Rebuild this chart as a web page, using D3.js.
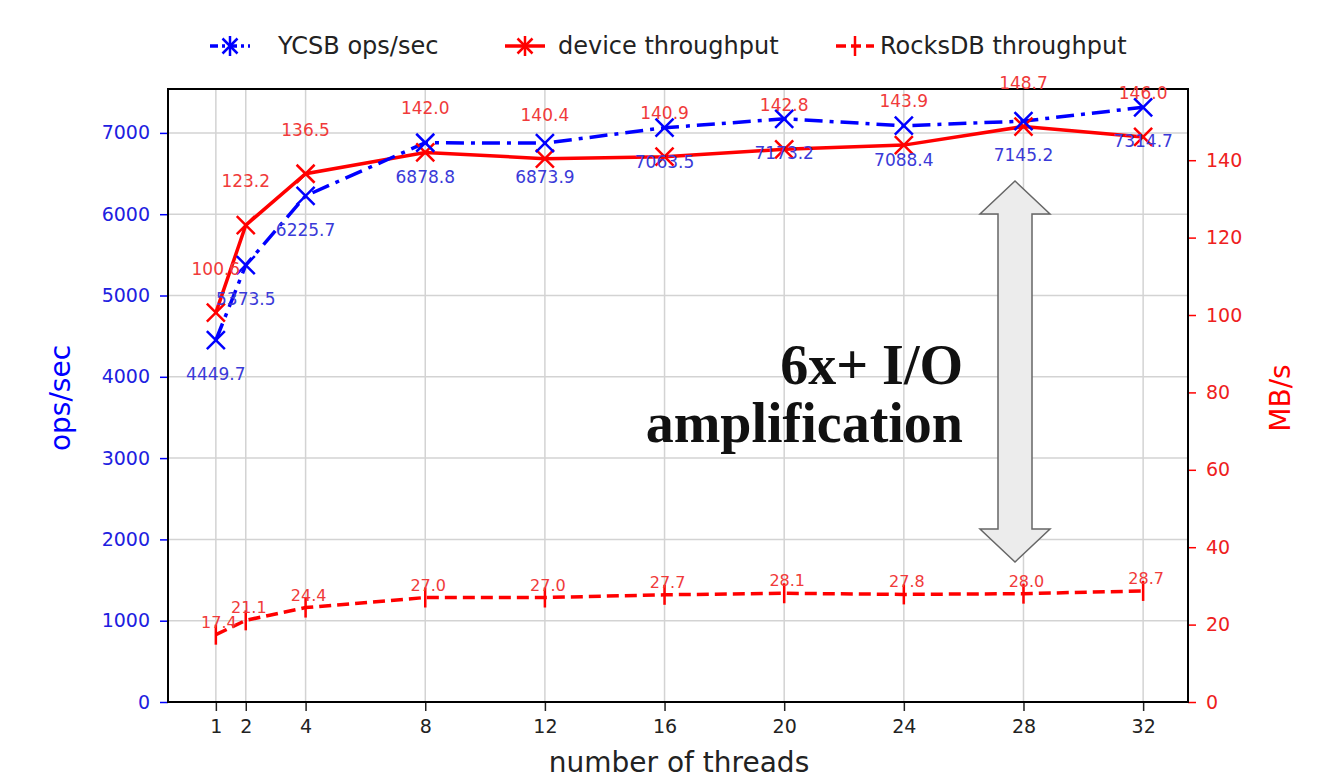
<!DOCTYPE html>
<html><head><meta charset="utf-8">
<script src="https://cdn.jsdelivr.net/npm/d3@7"></script>
<style>body{margin:0;background:#fff}svg{display:block}text{font-family:"DejaVu Sans",sans-serif}</style>
</head><body><svg id="c" width="1329" height="781"></svg>
<script>
const threads = [1, 2, 4, 8, 12, 16, 20, 24, 28, 32];
const xTicks = [1, 2, 4, 8, 12, 16, 20, 24, 28, 32];
const ycsbOps = [4449.7, 5373.5, 6225.7, 6878.8, 6873.9, 7063.5, 7173.2, 7088.4, 7145.2, 7314.7];
const deviceMBs = [100.6, 123.2, 136.5, 142.0, 140.4, 140.9, 142.8, 143.9, 148.7, 146.0];
const rocksMBs = [17.4, 21.1, 24.4, 27.0, 27.0, 27.7, 28.1, 27.8, 28.0, 28.7];
const leftTicks = [0, 1000, 2000, 3000, 4000, 5000, 6000, 7000];
const rightTicks = [0, 20, 40, 60, 80, 100, 120, 140];
const legendLabels = ["YCSB ops/sec", "device throughput", "RocksDB throughput"];
const annotationLines = ["6x+ I/O", "amplification"];

const svg = d3.select("#c");
const L = 168, R = 1188, T = 89, B = 702;
const x = d3.scaleLinear().domain([-0.6, 33.5]).range([L, R]);
const yL = d3.scaleLinear().domain([0, 7540]).range([B, T]);
const yR = d3.scaleLinear().domain([0, 158.4]).range([B, T]);
const BLUE = "#0000ff", RED = "#ff0000";

// grid
const g = svg.append("g");
g.selectAll(".vg").data(xTicks).join("line")
  .attr("x1", d => x(d)).attr("x2", d => x(d)).attr("y1", T).attr("y2", B)
  .attr("stroke", "#d3d3d3").attr("stroke-width", 1.5);
g.selectAll(".hg").data(leftTicks.slice(1)).join("line")
  .attr("x1", L).attr("x2", R).attr("y1", d => yL(d)).attr("y2", d => yL(d))
  .attr("stroke", "#d3d3d3").attr("stroke-width", 1.5);

// axes
const xAx = svg.append("g").attr("transform", `translate(0,${B})`)
  .call(d3.axisBottom(x).tickValues(xTicks).tickSize(9).tickPadding(9));
xAx.select(".domain").remove();
xAx.selectAll("text").attr("font-size", 19).attr("fill", "#222");
xAx.selectAll("line").attr("stroke", "#222").attr("stroke-width", 1.5);

const lAx = svg.append("g").attr("transform", `translate(${L},0)`)
  .call(d3.axisLeft(yL).tickValues(leftTicks).tickFormat(d3.format("d")).tickSize(8).tickPadding(10));
lAx.select(".domain").remove();
lAx.selectAll("text").attr("font-size", 19).attr("fill", "#2020e0");
lAx.selectAll("line").attr("stroke", BLUE).attr("stroke-width", 1.5);

const rAx = svg.append("g").attr("transform", `translate(${R},0)`)
  .call(d3.axisRight(yR).tickValues(rightTicks).tickSize(8).tickPadding(10));
rAx.select(".domain").remove();
rAx.selectAll("text").attr("font-size", 19).attr("fill", "#ee2020");
rAx.selectAll("line").attr("stroke", RED).attr("stroke-width", 1.5);

svg.append("rect").attr("x", L).attr("y", T).attr("width", R - L).attr("height", B - T)
  .attr("fill", "none").attr("stroke", "#000").attr("stroke-width", 2);

svg.append("text").attr("x", 679).attr("y", 772).attr("text-anchor", "middle")
  .attr("font-size", 28).attr("fill", "#222").text("number of threads");
svg.append("text").attr("transform", "translate(70,398) rotate(-90)").attr("text-anchor", "middle")
  .attr("font-size", 28).attr("fill", BLUE).text("ops/sec");
svg.append("text").attr("transform", "translate(1290,398) rotate(-90)").attr("text-anchor", "middle")
  .attr("font-size", 28).attr("fill", RED).text("MB/s");

// arrow annotation
const ax = 1015, aTop = 181, aBot = 562, hw = 35, sw = 17, hh = 33;
svg.append("path").attr("d", [
  [ax, aTop], [ax + hw, aTop + hh], [ax + sw, aTop + hh], [ax + sw, aBot - hh], [ax + hw, aBot - hh],
  [ax, aBot], [ax - hw, aBot - hh], [ax - sw, aBot - hh], [ax - sw, aTop + hh], [ax - hw, aTop + hh]
].map((p, i) => (i ? "L" : "M") + p[0] + "," + p[1]).join("") + "Z")
  .attr("fill", "#ececec").attr("stroke", "#666").attr("stroke-width", 1.5);

// series
const mk = (ys, arr) => d3.line().x((d, i) => x(threads[i])).y(d => ys(d))(arr);
svg.append("path").attr("d", mk(yR, rocksMBs)).attr("fill", "none").attr("stroke", RED)
  .attr("stroke-width", 3.5).attr("stroke-dasharray", "12,6");
svg.append("path").attr("d", mk(yR, deviceMBs)).attr("fill", "none").attr("stroke", RED)
  .attr("stroke-width", 3.5);
svg.append("path").attr("d", mk(yL, ycsbOps)).attr("fill", "none").attr("stroke", BLUE)
  .attr("stroke-width", 3.5).attr("stroke-dasharray", "18,7,4,7");

function xMark(sel, cx, cy, col, s) {
  sel.append("path").attr("d", `M${cx - s},${cy - s}L${cx + s},${cy + s}M${cx - s},${cy + s}L${cx + s},${cy - s}`)
    .attr("stroke", col).attr("stroke-width", 2.5).attr("fill", "none");
}
function star(sel, cx, cy, col, s) {
  xMark(sel, cx, cy, col, s * 0.75);
  sel.append("path").attr("d", `M${cx},${cy - s}L${cx},${cy + s}`).attr("stroke", col).attr("stroke-width", 2.5);
}
function vMark(sel, cx, cy, col, s) {
  sel.append("path").attr("d", `M${cx},${cy - s}L${cx},${cy + s}`).attr("stroke", col).attr("stroke-width", 2.5);
}
const mg = svg.append("g");
rocksMBs.forEach((v, i) => vMark(mg, x(threads[i]), yR(v), RED, 10));
deviceMBs.forEach((v, i) => xMark(mg, x(threads[i]), yR(v), RED, 9));
ycsbOps.forEach((v, i) => xMark(mg, x(threads[i]), yL(v), BLUE, 9));

// value labels
const lg = svg.append("g").attr("font-size", 17).attr("text-anchor", "middle");
ycsbOps.forEach((v, i) => lg.append("text").attr("x", x(threads[i])).attr("y", yL(v) + 40)
  .attr("fill", "#3a3ad8").text(v.toFixed(1)));
deviceMBs.forEach((v, i) => lg.append("text").attr("x", x(threads[i])).attr("y", yR(v) - 38)
  .attr("fill", "#f03a3a").text(v.toFixed(1)));
rocksMBs.forEach((v, i) => lg.append("text").attr("x", x(threads[i]) + 3).attr("y", yR(v) - 7)
  .attr("fill", "#f03a3a").attr("font-size", 16).text(v.toFixed(1)));

// annotation text (two lines)
const at = svg.append("g").attr("font-weight", "bold").attr("font-size", 56)
  .attr("text-anchor", "end").attr("fill", "#111").style("font-family", "'Liberation Serif',serif");
annotationLines.forEach((t, i) => at.append("text").attr("x", 963).attr("y", 384 + i * 58)
  .style("font-family", "'Liberation Serif',serif").text(t));

// legend
const leg = svg.append("g");
const legItems = [
  { x0: 210, tx: 278, col: BLUE, dash: "8,4,3,4", m: "star" },
  { x0: 505, tx: 558, col: RED, dash: null, m: "star" },
  { x0: 836, tx: 880, col: RED, dash: "10,5", m: "v" }
];
legItems.forEach((it, i) => {
  const w = i === 2 ? 38 : 40;
  leg.append("line").attr("x1", it.x0).attr("x2", it.x0 + w).attr("y1", 46).attr("y2", 46)
    .attr("stroke", it.col).attr("stroke-width", 3.5).attr("stroke-dasharray", it.dash);
  if (it.m === "star") star(leg, it.x0 + w / 2, 46, it.col, 10); else vMark(leg, it.x0 + w / 2, 46, it.col, 10);
  leg.append("text").attr("x", it.tx).attr("y", 54).attr("font-size", 24).attr("fill", "#222").text(legendLabels[i]);
});
</script></body></html>
